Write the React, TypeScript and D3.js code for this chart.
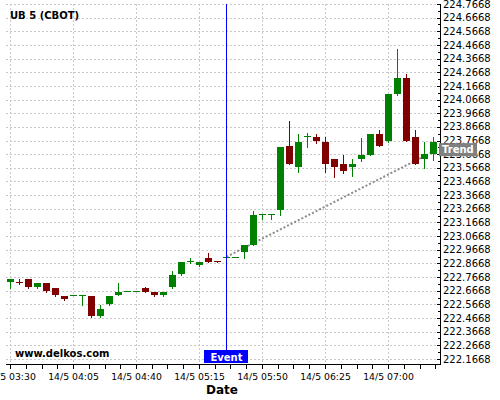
import React from "react";
import * as d3 from "d3";

const times = [
  "03:30","03:35","03:40","03:45","03:50","03:55","04:00","04:05","04:10","04:15","04:20","04:25",
  "04:30","04:35","04:40","04:45","04:50","04:55","05:00","05:05","05:10","05:15","05:20","05:25",
  "05:30","05:35","05:40","05:45","05:50","05:55","06:00","06:05","06:10","06:15","06:20","06:25",
  "06:30","06:35","06:40","06:45","06:50","06:55","07:00","07:05","07:10","07:15","07:20","07:25",
];
const opens = [
  222.729,222.734,222.756,222.695,222.724,222.688,222.631,222.635,222.634,222.631,222.480,222.568,
  222.634,222.665,222.665,222.688,222.661,222.634,222.692,222.787,222.882,222.853,222.910,222.888,
  222.913,222.915,222.949,223.005,223.229,223.229,223.256,223.725,223.571,223.797,223.789,223.757,
  223.628,223.598,223.571,223.628,223.664,223.816,223.762,224.104,224.228,223.789,223.628,223.666,
];
const highs = [
  222.756,222.749,222.756,222.724,222.724,222.688,222.631,222.637,222.636,222.631,222.560,222.631,
  222.724,222.667,222.667,222.695,222.661,222.661,222.812,222.880,222.908,222.880,222.944,222.888,
  222.920,222.917,223.005,223.254,223.231,223.231,223.723,223.913,223.816,223.823,223.818,223.789,
  223.628,223.662,223.628,223.787,223.816,223.842,224.104,224.439,224.255,223.847,223.757,223.789,
];
const lows = [
  222.688,222.719,222.688,222.685,222.658,222.626,222.597,222.635,222.563,222.472,222.472,222.560,
  222.634,222.665,222.665,222.656,222.626,222.626,222.685,222.780,222.871,222.846,222.880,222.880,
  222.905,222.915,222.908,222.998,223.193,223.193,223.220,223.598,223.535,223.721,223.752,223.534,
  223.503,223.532,223.505,223.620,223.664,223.725,223.755,224.097,223.762,223.598,223.566,223.623,
];
const closes = [
  222.756,222.729,222.695,222.724,222.666,222.634,222.604,222.637,222.636,222.480,222.536,222.631,
  222.661,222.667,222.667,222.661,222.634,222.661,222.785,222.880,222.885,222.880,222.880,222.880,
  222.916,222.917,223.005,223.225,223.231,223.231,223.723,223.598,223.757,223.799,223.760,223.598,
  223.571,223.542,223.598,223.664,223.816,223.725,224.104,224.228,223.762,223.598,223.666,223.757,
];

const xTickLabels = ["14/5 03:30","14/5 04:05","14/5 04:40","14/5 05:15","14/5 05:50","14/5 06:25","14/5 07:00"];
const xTickTimes = ["03:30","04:05","04:40","05:15","05:50","06:25","07:00"];
const yTickLabels = [
  "222.1668","222.2668","222.3668","222.4668","222.5668","222.6668","222.7668","222.8668","222.9668",
  "223.0668","223.1668","223.2668","223.3668","223.4668","223.5668","223.6668","223.7668","223.8668",
  "223.9668","224.0668","224.1668","224.2668","224.3668","224.4668","224.5668","224.6668","224.7668",
];
const eventTime = "05:30";
const trendStart = { index: 24, value: 222.915 };
const trendEnd = { index: 47.4, value: 223.7 };

const FONT = "DejaVu Sans, sans-serif";

export default function App() {
  const W = 500, H = 400;
  const left = 6, right = 440, top = 4, bottom = 364;
  const x = d3.scaleLinear().domain([-4 / 9, 430 / 9]).range([left, right]);
  const y = d3.scaleLinear().domain([222.13, 224.7668]).range([bottom, top]);
  const cx = (i: number) => Math.round(x(i));
  const yTicks = yTickLabels.map((s) => +s);
  const xTickIdx = xTickTimes.map((t) => times.indexOf(t));
  const majorStep = xTickIdx[1] - xTickIdx[0];
  const minorX: number[] = [];
  for (let k = 0; ; k++) {
    const xi = x(xTickIdx[0] + (k * majorStep) / 4);
    if (xi > right) break;
    minorX.push(Math.round(xi) + 0.5);
  }
  const yMinor: number[] = [];
  for (let k = 0; k < yTicks.length - 1; k++) yMinor.push((yTicks[k] + yTicks[k + 1]) / 2);
  const evX = cx(times.indexOf(eventTime)) + 0.5;
  const line = d3.line<{ index: number; value: number }>().x((d) => x(d.index) + 0.5).y((d) => y(d.value));
  const trendY = y(trendEnd.value);

  return (
    <svg width={W} height={H} style={{ position: "absolute", left: 0, top: 0, background: "#fff" }} fontFamily={FONT}>
      <rect x={0} y={0} width={W} height={H} fill="#fff" />
      {/* horizontal grid */}
      {yTicks.map((v, i) => (
        <line key={"hg" + i} x1={left} x2={right} y1={Math.round(y(v)) + 0.5} y2={Math.round(y(v)) + 0.5}
          stroke="#c8c8c8" strokeDasharray="2,2" />
      ))}
      {/* vertical grid */}
      {xTickIdx.map((idx, i) => (
        <line key={"vg" + i} x1={cx(idx) + 0.5} x2={cx(idx) + 0.5} y1={top} y2={bottom}
          stroke="#c8c8c8" strokeDasharray="2,2" />
      ))}
      <text x={10} y={19} fontSize={10} fontWeight="bold" fill="#000">UB 5 (CBOT)</text>
      <text x={15} y={357} fontSize={10} fontWeight="bold" fill="#000">www.delkos.com</text>
      {/* trend line */}
      <path d={line([trendStart, trendEnd]) || ""} stroke="#8c8c8c" strokeWidth={2} strokeDasharray="2,2" fill="none" />
      {/* candles */}
      {times.map((t, i) => {
        const o = opens[i], c = closes[i], h = highs[i], l = lows[i];
        const up = c >= o;
        const col = up ? "#008000" : "#800000";
        const xc = cx(i);
        const yTop = Math.round(y(Math.max(o, c)));
        const yBot = Math.round(y(Math.min(o, c)));
        const bh = Math.max(1, yBot - yTop);
        return (
          <g key={t}>
            <line x1={xc + 0.5} x2={xc + 0.5} y1={Math.round(y(h))} y2={Math.round(y(l)) + 1} stroke={col} />
            <rect x={xc - 3} y={yTop} width={7} height={bh} fill={col} />
          </g>
        );
      })}
      {/* event line */}
      <line x1={evX} x2={evX} y1={top} y2={350} stroke="#0000ff" />
      <rect x={evX - 22.5} y={350} width={44} height={13} fill="#0000ff" />
      <text x={evX} y={360.5} fontSize={10} fontWeight="bold" fill="#fff" textAnchor="middle">Event</text>
      {/* axes */}
      <line x1={left} x2={right + 0.5} y1={bottom + 0.5} y2={bottom + 0.5} stroke="#000" />
      <line x1={right + 0.5} x2={right + 0.5} y1={top} y2={bottom + 1} stroke="#000" />
      {minorX.map((xx, i) => (
        <line key={"xt" + i} x1={xx} x2={xx} y1={bottom + 1} y2={bottom + 5} stroke="#000" />
      ))}
      {xTickIdx.map((idx, i) => (
        <text key={"xl" + i} x={cx(idx) + 0.5} y={380} fontSize={9.3} textAnchor="middle" fill="#000">{xTickLabels[i]}</text>
      ))}
      {yTicks.map((v, i) => (
        <line key={"yt" + i} x1={right - 3} x2={right} y1={Math.round(y(v)) + 0.5} y2={Math.round(y(v)) + 0.5} stroke="#000" />
      ))}
      {yMinor.map((v, i) => (
        <line key={"ym" + i} x1={right - 2} x2={right} y1={Math.round(y(v)) + 0.5} y2={Math.round(y(v)) + 0.5} stroke="#000" />
      ))}
      {yTicks.map((v, i) => (
        <text key={"yl" + i} x={443} y={y(v)} dy="0.36em" fontSize={10} fill="#000">{yTickLabels[i]}</text>
      ))}
      {/* trend label */}
      <rect x={right - 1} y={trendY - 6.5} width={38} height={13} fill="#808080" />
      <text x={right + 2} y={trendY} dy="0.36em" fontSize={10} fontWeight="bold" fill="#fff">Trend</text>
      <text x={222} y={394} fontSize={12} fontWeight="bold" textAnchor="middle" fill="#000">Date</text>
    </svg>
  );
}
